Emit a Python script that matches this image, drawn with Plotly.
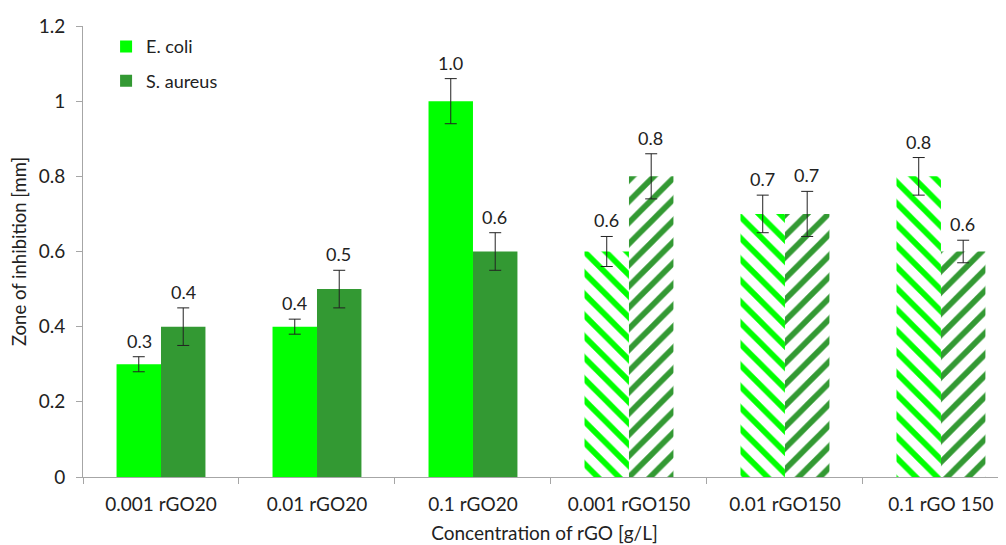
import plotly.graph_objects as go

categories = ["0.001 rGO20", "0.01 rGO20", "0.1 rGO20", "0.001 rGO150", "0.01 rGO150", "0.1 rGO 150"]
ecoli = [0.3, 0.4, 1.0, 0.6, 0.7, 0.8]
ecoli_err = [0.02, 0.02, 0.06, 0.04, 0.05, 0.05]
saureus = [0.4, 0.5, 0.6, 0.8, 0.7, 0.6]
saureus_err = [0.05, 0.05, 0.05, 0.06, 0.06, 0.03]
n_solid = 3  # first three categories solid, rest hatched

C_E = "#00FF00"
C_S = "#339933"
FONT = "Lato"
TXT = "#222222"

fig = go.Figure()
series = [
    ("E. coli", ecoli, ecoli_err, C_E, "\\", -22, "e"),
    ("S. aureus", saureus, saureus_err, C_S, "/", 22, "s"),
]
for name, vals, errs, col, shape, shift, grp in series:
    err_kw = dict(type="data", visible=True, color=TXT, thickness=1, width=6)
    fig.add_trace(go.Bar(
        name=name, x=categories[:n_solid], y=vals[:n_solid], offsetgroup=grp,
        legendgroup=grp, marker=dict(color=col, line=dict(width=0)),
        error_y=dict(array=errs[:n_solid], **err_kw),
    ))
for name, vals, errs, col, shape, shift, grp in series:
    err_kw = dict(type="data", visible=True, color=TXT, thickness=1, width=6)
    fig.add_trace(go.Bar(
        name=name, x=categories[n_solid:], y=vals[n_solid:], offsetgroup=grp,
        legendgroup=grp, showlegend=False,
        marker=dict(color="white", line=dict(width=0),
                    pattern=dict(shape=shape, fgcolor=col, bgcolor="white",
                                 fgopacity=1, size=15, solidity=0.38)),
        error_y=dict(array=errs[n_solid:], **err_kw),
    ))
for name, vals, errs, col, shape, shift, grp in series:
    for c, v, e in zip(categories, vals, errs):
        fig.add_annotation(x=c, y=v + e, text=f"{v:.1f}", showarrow=False,
                           xref="x", yref="y", xshift=shift, yshift=3,
                           yanchor="bottom", font=dict(family=FONT, size=18, color=TXT))

fig.update_layout(
    width=998, height=537,
    margin=dict(l=75, r=0, t=18, b=68),
    plot_bgcolor="white", paper_bgcolor="white",
    barmode="group", bargap=0.43, bargroupgap=0,
    font=dict(family=FONT, size=18, color=TXT),
    showlegend=True,
    legend=dict(x=0.025, y=0.995, xanchor="left", yanchor="top", bgcolor="rgba(0,0,0,0)",
                font=dict(family=FONT, size=18, color=TXT), itemsizing="constant",
                tracegroupgap=8, itemwidth=30),
    xaxis=dict(type="category", range=[-0.5, 5.417], showline=True, linecolor="#A6A6A6",
               ticks="outside", tickson="boundaries", ticklen=6, tickcolor="#A6A6A6",
               automargin=False, ticklabelstandoff=10,
               title=dict(text="Concentration of rGO [g/L]", standoff=12,
                          font=dict(family=FONT, size=19)),
               tickfont=dict(family=FONT, size=19), showgrid=False),
    yaxis=dict(range=[0, 1.2], dtick=0.2, showline=True, linecolor="#A6A6A6",
               ticks="outside", ticklen=6, tickcolor="#A6A6A6", showgrid=False,
               zeroline=False, tickformat="~g", automargin=False, ticklabelstandoff=7,
               title=dict(text="Zone of inhibition [mm]", standoff=12,
                          font=dict(family=FONT, size=18.5)),
               tickfont=dict(family=FONT, size=19)),
)
fig.write_html("out.html")
